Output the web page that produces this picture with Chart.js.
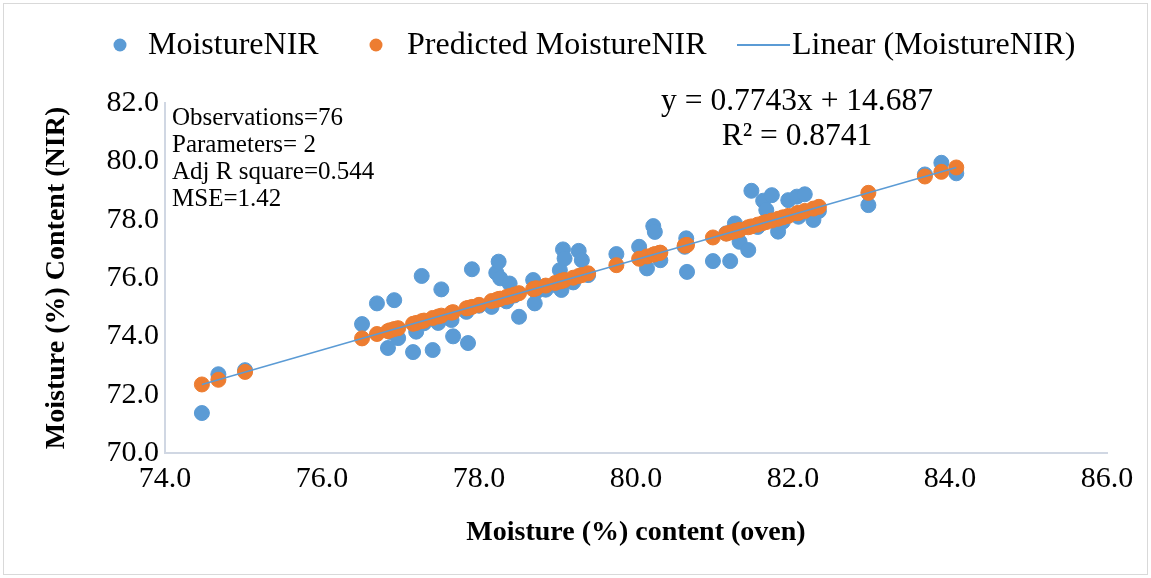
<!DOCTYPE html>
<html>
<head>
<meta charset="utf-8">
<script src="https://cdn.jsdelivr.net/npm/chart.js@4.4.0/dist/chart.umd.min.js"></script>
<style>
  html, body { margin: 0; padding: 0; background: #fff; }
</style>
</head>
<body>
<canvas id="nirChart" width="1151" height="578"></canvas>
<script>
// oven-dried moisture (%) for each sample
const ovenMoisture = [
  74.47, 74.68, 75.02, 76.51, 76.70, 76.84, 76.87, 76.92, 76.97, 77.16,
  77.20, 77.27, 77.30, 77.41, 77.48, 77.52, 77.65, 77.67, 77.84, 77.86,
  77.91, 78.00, 78.16, 78.22, 78.25, 78.27, 78.35, 78.39, 78.45, 78.51,
  78.69, 78.71, 78.73, 78.85, 78.97, 79.03, 79.05, 79.07, 79.09, 79.20,
  79.27, 79.31, 79.39, 79.75, 80.04, 80.14, 80.22, 80.24, 80.30, 80.31,
  80.62, 80.64, 80.65, 80.98, 81.15, 81.20, 81.26, 81.32, 81.43, 81.47,
  81.55, 81.62, 81.66, 81.73, 81.81, 81.87, 81.94, 82.05, 82.07, 82.15,
  82.26, 82.33, 82.96, 83.68, 83.89, 84.08
];
// NIR reading for the same samples
const nirMoisture = [
  71.37, 72.70, 72.84, 74.42, 75.13, 73.60, 74.15, 75.24, 73.94, 73.46,
  74.16, 76.07, 74.45, 73.53, 74.46, 75.61, 74.56, 74.00, 74.84, 73.77,
  76.30, 75.05, 75.01, 76.18, 76.56, 75.99, 75.20, 75.81, 75.40, 74.67,
  75.93, 75.13, 75.53, 75.60, 75.76, 76.27, 75.59, 76.98, 76.67, 75.85,
  76.93, 76.61, 76.10, 76.82, 77.07, 76.33, 77.78, 77.58, 76.85, 76.61,
  77.07, 77.36, 76.21, 76.58, 77.53, 76.58, 77.87, 77.24, 76.96, 78.99,
  77.75, 78.65, 78.33, 78.84, 77.59, 77.93, 78.67, 78.79, 78.10, 78.87,
  77.99, 78.30, 78.50, 79.55, 79.95, 79.59
];
// fitted NIR values
const nirPredicted = [
  72.35, 72.51, 72.78, 73.93, 74.08, 74.18, 74.21, 74.25, 74.28, 74.43,
  74.46, 74.52, 74.54, 74.63, 74.68, 74.71, 74.81, 74.83, 74.96, 74.97,
  75.01, 75.08, 75.21, 75.25, 75.28, 75.29, 75.35, 75.38, 75.43, 75.48,
  75.62, 75.63, 75.65, 75.74, 75.83, 75.88, 75.90, 75.91, 75.93, 76.01,
  76.07, 76.10, 76.16, 76.44, 76.66, 76.74, 76.80, 76.82, 76.86, 76.87,
  77.11, 77.13, 77.13, 77.39, 77.52, 77.56, 77.61, 77.65, 77.74, 77.77,
  77.83, 77.89, 77.92, 77.97, 78.03, 78.08, 78.13, 78.22, 78.23, 78.30,
  78.38, 78.44, 78.92, 79.48, 79.64, 79.79
];
// trendline end points
const trendX = [74.47, 84.08];
const trendY = [72.35, 79.79];

const seriesNames = ['MoistureNIR', 'Predicted MoistureNIR', 'Linear (MoistureNIR)'];
const statLines = ['Observations=76', 'Parameters= 2', 'Adj R square=0.544', 'MSE=1.42'];
const equationLines = ['y = 0.7743x + 14.687', 'R\u00b2 = 0.8741'];

const BLUE = '#5B9BD5';
const ORANGE = '#ED7D31';
const SERIF = '"Liberation Serif", "Times New Roman", serif';

const toPoints = (xs, ys) => xs.map((x, i) => ({ x: x, y: ys[i] }));

// frame, legend and text boxes
const decorations = {
  id: 'decorations',
  beforeDraw(chart) {
    const ctx = chart.ctx;
    ctx.save();
    ctx.fillStyle = '#fff';
    ctx.fillRect(0, 0, chart.width, chart.height);
    ctx.strokeStyle = '#d9d9d9';
    ctx.lineWidth = 1;
    ctx.strokeRect(3.5, 3.5, chart.width - 7, chart.height - 7);
    ctx.restore();
  },
  afterDraw(chart) {
    const ctx = chart.ctx;
    ctx.save();
    // legend
    const ly = 45;
    ctx.font = '32px ' + SERIF;
    ctx.textBaseline = 'middle';
    ctx.fillStyle = BLUE;
    ctx.beginPath(); ctx.arc(120, ly, 6.5, 0, Math.PI * 2); ctx.fill();
    ctx.fillStyle = '#000';
    ctx.fillText(seriesNames[0], 148, ly + 1);
    ctx.fillStyle = ORANGE;
    ctx.beginPath(); ctx.arc(376, ly, 6.5, 0, Math.PI * 2); ctx.fill();
    ctx.fillStyle = '#000';
    ctx.fillText(seriesNames[1], 407, ly + 1);
    ctx.strokeStyle = BLUE;
    ctx.lineWidth = 2;
    ctx.beginPath(); ctx.moveTo(737, ly); ctx.lineTo(790, ly); ctx.stroke();
    ctx.fillText(seriesNames[2], 792, ly + 1);

    // regression statistics
    ctx.font = '25px ' + SERIF;
    statLines.forEach((t, i) => ctx.fillText(t, 172, 118 + i * 27));

    // trendline equation
    ctx.font = '31.5px ' + SERIF;
    ctx.textAlign = 'center';
    ctx.fillText(equationLines[0], 797, 102);
    ctx.fillText(equationLines[1], 797, 137);
    ctx.restore();
  }
};

new Chart(document.getElementById('nirChart'), {
  type: 'scatter',
  data: {
    datasets: [
      {
        label: seriesNames[0],
        data: toPoints(ovenMoisture, nirMoisture),
        backgroundColor: BLUE,
        borderColor: BLUE,
        borderWidth: 1,
        pointRadius: 7.5,
        order: 2
      },
      {
        label: seriesNames[1],
        data: toPoints(ovenMoisture, nirPredicted),
        backgroundColor: ORANGE,
        borderColor: ORANGE,
        borderWidth: 1,
        pointRadius: 7.5,
        order: 1
      },
      {
        type: 'line',
        label: seriesNames[2],
        data: toPoints(trendX, trendY),
        borderColor: BLUE,
        borderWidth: 1.5,
        pointRadius: 0,
        showLine: true,
        fill: false,
        order: 0
      }
    ]
  },
  options: {
    responsive: false,
    animation: false,
    devicePixelRatio: 1,
    layout: { padding: { left: 0, right: 44, top: 103, bottom: 0 } },
    plugins: {
      legend: { display: false },
      tooltip: { enabled: false }
    },
    scales: {
      x: {
        type: 'linear',
        min: 74,
        max: 86,
        afterFit: (s) => { s.height = 125; },
        ticks: {
          stepSize: 2,
          padding: 8,
          color: '#000',
          font: { family: SERIF, size: 30 },
          callback: (v) => v.toFixed(1)
        },
        grid: { display: false, drawTicks: false },
        border: { display: true, color: '#d0d7e3', width: 2 },
        title: {
          display: true,
          text: 'Moisture (%) content (oven)',
          color: '#000',
          font: { family: SERIF, size: 28, weight: 'bold' },
          padding: { top: 0, bottom: 28 }
        }
      },
      y: {
        type: 'linear',
        min: 70,
        max: 82,
        afterFit: (s) => { s.width = 165; },
        ticks: {
          stepSize: 2,
          padding: 6,
          color: '#000',
          font: { family: SERIF, size: 30 },
          callback: (v) => v.toFixed(1)
        },
        grid: { display: false, drawTicks: false },
        border: { display: true, color: '#d0d7e3', width: 2 },
        title: {
          display: true,
          text: 'Moisture (%) Content (NIR)',
          color: '#000',
          font: { family: SERIF, size: 28, weight: 'bold' },
          padding: { top: 40, bottom: 0 }
        }
      }
    }
  },
  plugins: [decorations]
});
</script>
</body>
</html>
